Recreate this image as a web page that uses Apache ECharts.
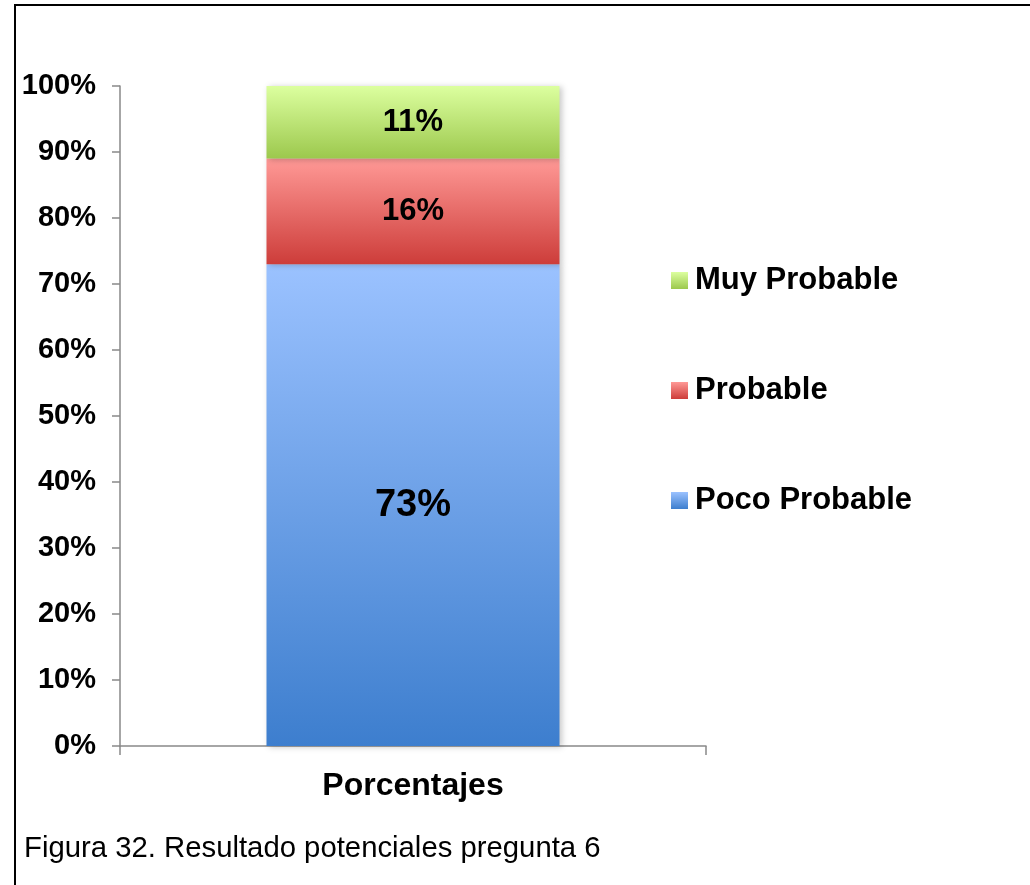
<!DOCTYPE html>
<html>
<head>
<meta charset="utf-8">
<title>Resultado potenciales pregunta 6</title>
<script src="https://cdn.jsdelivr.net/npm/echarts@6/dist/echarts.min.js"></script>
<style>
body { margin: 0; background: #fff; }
#main { width: 1030px; height: 885px; }
</style>
</head>
<body>
<div id="main"></div>
<script type="text/javascript">
// datos del grafico
var categorias = ['Porcentajes'];
var pocoProbable = [73];
var probable = [16];
var muyProbable = [11];
var yTicks = { min: 0, max: 100, interval: 10 };

var fuente = "'Liberation Sans', Arial, sans-serif";

function degradado(arriba, abajo) {
	return new echarts.graphic.LinearGradient(0, 0, 0, 1, [
		{ offset: 0, color: arriba },
		{ offset: 1, color: abajo }
	]);
}

function serie(nombre, datos, arriba, abajo, tam) {
	return {
		name: nombre,
		type: 'bar',
		stack: 'total',
		barWidth: '50%',
		data: datos,
		itemStyle: {
			color: degradado(arriba, abajo),
			shadowBlur: 6,
			shadowOffsetX: 2,
			shadowOffsetY: 1,
			shadowColor: 'rgba(0,0,0,0.22)'
		},
		label: {
			show: true,
			position: 'inside',
			formatter: '{c}%',
			color: '#000',
			fontFamily: fuente,
			fontWeight: 'bold',
			fontSize: tam
		}
	};
}

var myChart = echarts.init(document.getElementById('main'));

var option = {
	animation: false,
	backgroundColor: '#fff',
	grid: { left: 120, right: 324, top: 86, bottom: 139 },
	legend: {
		orient: 'vertical',
		left: 671,
		top: 265,
		padding: 0,
		itemWidth: 17,
		itemHeight: 17,
		itemGap: 79,
		icon: 'rect',
		data: ['Muy Probable', 'Probable', 'Poco Probable'],
		textStyle: {
			color: '#000',
			fontFamily: fuente,
			fontWeight: 'bold',
			fontSize: 31,
			lineHeight: 30,
			padding: [0, 0, 0, 2]
		}
	},
	xAxis: {
		type: 'category',
		data: categorias,
		axisLine: { lineStyle: { color: '#898989', width: 1.5 } },
		axisTick: { show: true, length: 9, lineStyle: { color: '#898989', width: 1.5 } },
		axisLabel: {
			margin: 24,
			color: '#000',
			fontFamily: fuente,
			fontWeight: 'bold',
			fontSize: 32
		}
	},
	yAxis: {
		type: 'value',
		min: yTicks.min,
		max: yTicks.max,
		interval: yTicks.interval,
		axisLine: { show: true, lineStyle: { color: '#898989', width: 1.5 } },
		axisTick: { show: true, length: 8, lineStyle: { color: '#898989', width: 1.5 } },
		splitLine: { show: false },
		axisLabel: {
			formatter: '{value}%',
			margin: 24,
			color: '#000',
			fontFamily: fuente,
			fontWeight: 'bold',
			fontSize: 29
		}
	},
	graphic: [
		// marco
		{ type: 'line', shape: { x1: 14, y1: 5, x2: 1030, y2: 5 }, style: { stroke: '#000', lineWidth: 2 } },
		{ type: 'line', shape: { x1: 15, y1: 4, x2: 15, y2: 885 }, style: { stroke: '#000', lineWidth: 2 } },
		// pie de figura
		{
			type: 'text',
			left: 24,
			top: 834,
			style: {
				text: 'Figura 32. Resultado potenciales pregunta 6',
				fill: '#000',
				font: '29.3px ' + fuente
			}
		}
	],
	series: [
		serie('Poco Probable', pocoProbable, '#9BC2FF', '#3D7ECE', 38),
		serie('Probable', probable, '#FF9996', '#CD3D3A', 31),
		serie('Muy Probable', muyProbable, '#DCFF9F', '#9CC84D', 31)
	]
};

myChart.setOption(option);
</script>
</body>
</html>
